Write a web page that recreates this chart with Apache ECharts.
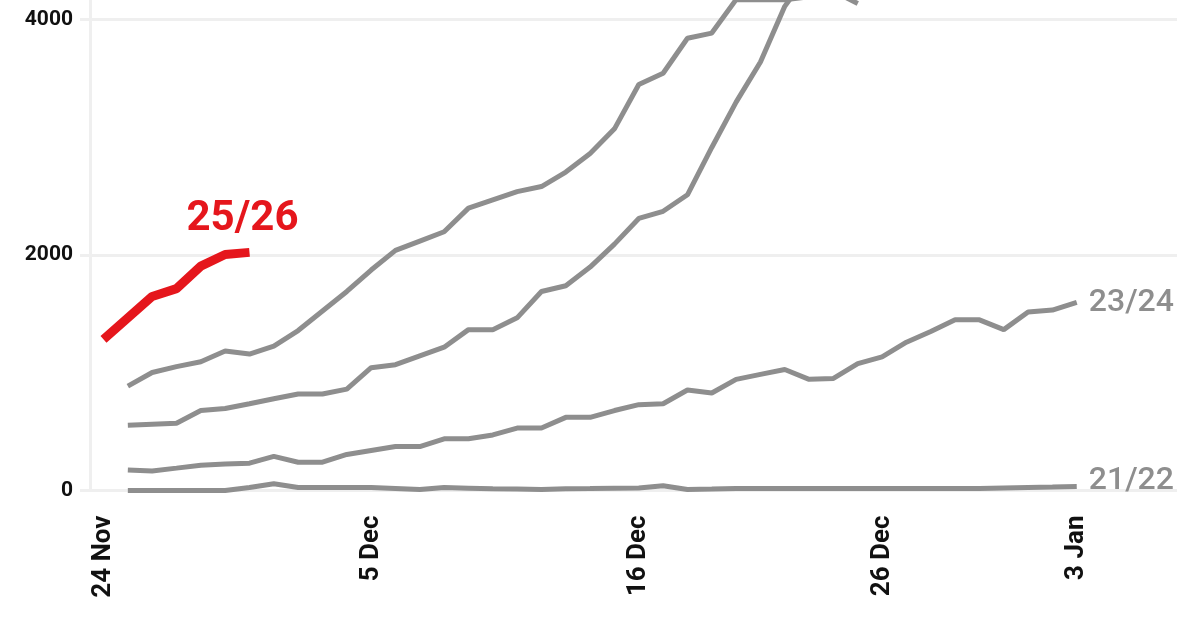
<!DOCTYPE html>
<html>
<head>
<meta charset="utf-8">
<script src="https://cdn.jsdelivr.net/npm/echarts@6/dist/echarts.min.js"></script>
<style>html,body{margin:0;padding:0;background:#fff}#c{width:1200px;height:630px}</style>
</head>
<body>
<div id="c"></div>
<script>
// Days from 24 Nov to 3 Jan (index = day offset)
const dayLabels = ['24 Nov','25 Nov','26 Nov','27 Nov','28 Nov','29 Nov','30 Nov',
  '1 Dec','2 Dec','3 Dec','4 Dec','5 Dec','6 Dec','7 Dec','8 Dec','9 Dec','10 Dec','11 Dec','12 Dec','13 Dec','14 Dec',
  '15 Dec','16 Dec','17 Dec','18 Dec','19 Dec','20 Dec','21 Dec','22 Dec','23 Dec','24 Dec','25 Dec','26 Dec','27 Dec',
  '28 Dec','29 Dec','30 Dec','31 Dec','1 Jan','2 Jan','3 Jan'];
const tickLabels = ['24 Nov','5 Dec','16 Dec','26 Dec','3 Jan'];
const yTicks = [0, 2000, 4000];

const s2526 = [1284,1466,1648,1714,1905,2004,2022];
const s2223 = [null,886,1002,1052,1093,1184,1159,1226,1358,1524,1690,1872,2039,2118,2197,2398,2468,2538,2581,2704,2861,3071,3447,3543,3840,3884,4168,4168,4168,4192];
const s2425 = [null,555,563,571,679,696,737,779,820,820,861,1043,1068,1143,1217,1366,1366,1466,1690,1739,1897,2092,2310,2371,2511,2913,3298,3639,4111,4400,4240,4135];
const s2324 = [null,174,166,190,215,224,232,290,240,240,306,340,373,373,439,439,472,530,530,621,621,679,729,737,853,828,944,986,1027,944,952,1077,1135,1259,1350,1449,1449,1366,1516,1532,1598];
const s2122 = [null,0,0,0,0,0,25,58,25,25,25,25,17,8,25,20,15,12,8,15,17,20,22,40,8,12,18,18,18,18,18,18,18,18,18,18,18,22,26,30,35];

const GRAY = '#8e8e8e';
const RED = '#e5161c';
const toPts = arr => arr.map((v, i) => [i, v]).filter(p => p[1] !== null);
const tickIdx = tickLabels.map(l => dayLabels.indexOf(l));

function grayLine(name, arr, withLabel, dy) {
  return {
    name: name, type: 'line', data: toPts(arr), symbol: 'none', silent: true,
    lineStyle: { color: GRAY, width: 5 },
    endLabel: withLabel ? {
      show: true, formatter: name, color: GRAY, fontFamily: 'Roboto', fontSize: 32, fontWeight: 500,
      distance: 12, offset: [0, dy]
    } : { show: false }
  };
}

const chart = echarts.init(document.getElementById('c'), null, { renderer: 'canvas' });
chart.setOption({
  animation: false,
  backgroundColor: '#fff',
  grid: { left: 80, right: 23, top: 0, bottom: 139.5, containLabel: false },
  xAxis: {
    type: 'value', min: -0.966, max: 44.12,
    axisLine: { show: false }, axisTick: { show: false, customValues: tickIdx },
    splitLine: { show: false },
    axisLabel: {
      customValues: tickIdx, rotate: 90, margin: 25,
      formatter: v => dayLabels[Math.round(v)],
      padding: [0, 0, 10, 0],
      fontFamily: 'Roboto', fontSize: 26, fontWeight: 'bold', color: '#111'
    }
  },
  yAxis: {
    type: 'value', min: 0, max: 4165, offset: -10,
    axisLine: { show: true, onZero: false, lineStyle: { color: '#efefef', width: 3 } },
    axisTick: { show: false, customValues: yTicks },
    splitLine: { show: true, lineStyle: { color: '#efefef', width: 3 } },
    axisLabel: {
      customValues: yTicks, margin: 17,
      formatter: v => String(v),
      fontFamily: 'Roboto', fontSize: 21, fontWeight: 'bold', color: '#111'
    }
  },
  series: [
    grayLine('21/22', s2122, true, -5),
    grayLine('23/24', s2324, true, 1),
    grayLine('22/23', s2223, false, 0),
    grayLine('24/25', s2425, false, 0),
    {
      name: '25/26', type: 'line', data: toPts(s2526), symbol: 'none', silent: true,
      lineStyle: { color: RED, width: 9 },
      endLabel: {
        show: true, formatter: '25/26', color: RED, fontFamily: 'Roboto', fontSize: 42, fontWeight: 'bold',
        distance: 0, align: 'center', verticalAlign: 'middle', offset: [-7, -33]
      }
    }
  ]
});
</script>
</body>
</html>
